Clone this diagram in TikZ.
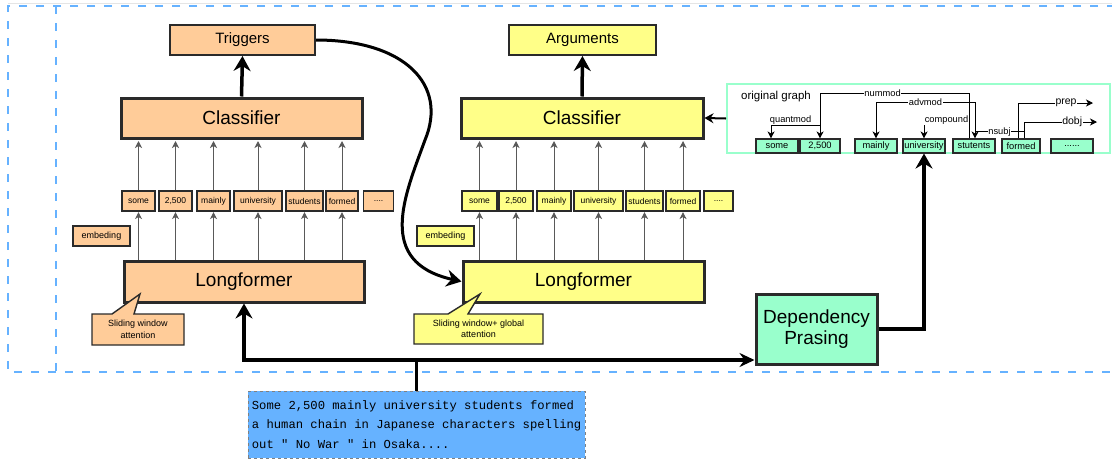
\documentclass[tikz,border=0pt]{standalone}
\usepackage{fontspec}
\setmainfont{Liberation Sans}
\newfontfamily\codefont[Ligatures=ResetAll]{Liberation Mono}
\usetikzlibrary{arrows.meta,calc}
\definecolor{orangefill}{HTML}{FFCC99}
\definecolor{yellowfill}{HTML}{FFFF88}
\definecolor{mintfill}{HTML}{99FFCC}
\definecolor{frameblue}{HTML}{66B2FF}
\definecolor{textblue}{HTML}{66B2FF}
\definecolor{edgegray}{HTML}{2A2A2A}
\newcommand\tokdots{....}
\tikzset{
  bigbox/.style={draw=edgegray, line width=3pt, inner sep=0pt, font=\fontsize{19}{22}\selectfont},
  headbox/.style={draw=edgegray, line width=2pt, inner sep=0pt, minimum height=30pt, font=\fontsize{15}{18}\selectfont},
  tokbox/.style={draw=edgegray, line width=1.1pt, inner sep=0pt, minimum height=20pt, font=\fontsize{8.5}{10}\selectfont},
  embbox/.style={draw=edgegray, line width=1.1pt, inner sep=0pt, minimum width=57pt, minimum height=20pt, font=\fontsize{9}{10}\selectfont},
  gtok/.style={draw=edgegray, fill=mintfill, line width=1.1pt, inner sep=0pt, minimum height=14pt, font=\fontsize{9.3}{10}\selectfont},
  thickarrow/.style={line width=3.5pt, -{Stealth[length=15pt,width=17pt,inset=5pt]}},
  smallarrow/.style={draw=black!65, line width=1pt, -{Stealth[length=7pt,width=7pt,inset=2pt]}},
  gedge/.style={line width=0.9pt, -{Stealth[length=7pt,width=7pt,inset=2pt]}},
  glabel/.style={fill=white, inner sep=0.6pt, font=\fontsize{9.3}{10}\selectfont},
  glabelbig/.style={fill=white, inner sep=0.6pt, font=\fontsize{10.5}{11}\selectfont},
  calloutline/.style={draw=edgegray, line width=1.4pt},
  callouttext/.style={align=center, inner sep=0pt, font=\fontsize{9}{11.5}\selectfont},
  frameline/.style={draw=frameblue, line width=2.6pt, dash pattern=on 8pt off 9pt}
}
\begin{document}
\begin{tikzpicture}[x=1pt,y=-1pt]
\useasboundingbox (0,0) rectangle (1112,459);

% dashed frames
\draw[gray!20, line width=0.8pt] (8,3) -- (1112,3);
\draw[frameline] (1115,6) -- (8,6) -- (8,372) -- (1115,372);
\draw[frameline] (56,6) -- (56,372);

% ---------- left column ----------
\node[headbox, fill=orangefill, minimum width=145pt] (trig) at (242.5,40) {Triggers};
\node[bigbox, fill=orangefill, minimum width=241pt, minimum height=40pt] (cls1) at (241.5,118) {Classifier};
\node[bigbox, fill=orangefill, minimum width=240pt, minimum height=41pt] (long1) at (244,281.5) {Longformer};
\node[embbox, fill=orangefill] (emb1) at (101.5,236) {embeding};
\foreach \n/\t/\c/\w in {1/some/138.5/33, 2/{2,500}/175.5/33, 3/mainly/213.5/33, 4/university/258/48, 5/students/304.5/37, 6/formed/342/32, 7/\tokdots/378.5/30}{
  \node[tokbox, fill=orangefill, minimum width=\w pt] (l\n) at (\c,201) {\t};
}
\foreach \i in {1,2,3,4,5,6}{
  \draw[smallarrow, shorten >=1.5pt] (l\i.north) -- (l\i.north |- cls1.south);
  \draw[smallarrow, shorten >=0.5pt] (l\i.south |- long1.north) -- (l\i.south);
}
\draw[thickarrow] (cls1.north) -- (trig.south);

% callout left
\draw[calloutline, fill=orangefill] (92,314) -- (112,314) -- (140,294) -- (134,314) -- (184,314) -- (184,345) -- (92,345) -- cycle;
\node[callouttext] (call1) at (138,329.5) {Sliding window\\attention};

% ---------- middle column ----------
\node[headbox, fill=yellowfill, minimum width=147pt] (args) at (582.5,40) {Arguments};
\node[bigbox, fill=yellowfill, minimum width=242pt, minimum height=40pt] (cls2) at (582,118) {Classifier};
\node[bigbox, fill=yellowfill, minimum width=241pt, minimum height=41pt] (long2) at (583.5,281.5) {Longformer};
\node[embbox, fill=yellowfill] (emb2) at (445.5,236) {embeding};
\foreach \n/\t/\c/\w in {1/some/479.5/35, 2/{2,500}/516/34, 3/mainly/554/34, 4/university/598.5/49, 5/students/644.5/37, 6/formed/683/34, 7/\tokdots/718.5/29}{
  \node[tokbox, fill=yellowfill, minimum width=\w pt] (m\n) at (\c,201) {\t};
}
\foreach \i in {1,2,3,4,5,6}{
  \draw[smallarrow, shorten >=1.5pt] (m\i.north) -- (m\i.north |- cls2.south);
  \draw[smallarrow, shorten >=0.5pt] (m\i.south |- long2.north) -- (m\i.south);
}
\draw[thickarrow] (cls2.north) -- (args.south);

% callout middle
\draw[calloutline, fill=yellowfill] (414,314) -- (448,314) -- (480,294) -- (468,314) -- (543,314) -- (543,344) -- (414,344) -- cycle;
\node[callouttext] (call2) at (478.5,329) {Sliding window+ global\\attention};

% curve from Triggers to second Longformer
\draw[line width=3pt, -{Stealth[length=15pt,width=17pt,inset=5pt]}]
  (trig.east) .. controls (405,40) and (448,85) .. (425,140)
  .. controls (405,195) and (375,262) .. (long2.west);

% ---------- original graph ----------
\node[draw=mintfill, line width=2pt, minimum width=383pt, minimum height=69pt, inner sep=0pt] (graph) at (918.5,118.5) {};
\node[inner sep=0pt, font=\fontsize{11.5}{12}\selectfont, anchor=west] (gtitle) at (741,97) {original graph};
\node[gtok, minimum width=42pt] (gsome) at (777,146) {some};
\node[gtok, minimum width=40pt] (g2500) at (820,146) {2,500};
\node[gtok, minimum width=42pt] (gmainly) at (876,146) {mainly};
\node[gtok, minimum width=42pt] (guniv) at (924,146) {university};
\node[gtok, minimum width=42pt] (gstud) at (974,146) {stutents};
\node[gtok, minimum width=38pt] (gformed) at (1021,146) {formed};
\node[gtok, minimum width=42pt] (gdots) at (1072,146) {......};

\coordinate (n1) at (969,93);
\coordinate (a1) at (975,102);
\coordinate (s1) at (1024,131);
\coordinate (c1) at (969,121);
\coordinate (q1) at (820,125);
\coordinate (q2) at (771,0);
\coordinate (p1) at (1018,103);
\coordinate (p2) at (1093,103);
\coordinate (d1) at (1024,122);
\coordinate (d2) at (1097,122);

% nummod
\draw[gedge] (gstud.north -| n1) -- (n1) -| node[glabel, pos=0.29] {nummod} (g2500.north);
% advmod
\draw[gedge] (a1 |- s1) -- (a1) -| node[glabel, pos=0.25] {advmod} (gmainly.north);
% nsubj
\draw[gedge] (gformed.north -| s1) -- (s1) -| node[glabel, pos=0.25, yshift=-1pt] {nsubj} (gstud.north -| a1);
% compound
\draw[gedge] (c1) -| node[glabel, pos=0.25, yshift=1pt] {compound} (guniv.north);
% quantmod
\draw[gedge] (q1) -| node[glabel, pos=0.3, yshift=5pt] {quantmod} (gsome.north -| q2);
% prep / dobj
\draw[gedge] (gformed.north -| p1) |- node[glabelbig, pos=0.82] {prep} (p2);
\draw[gedge] (gformed.north -| d1) |- node[glabelbig, pos=0.83] {dobj} (d2);

\draw[line width=2pt, -{Stealth[length=9pt,width=10pt,inset=3pt]}] (graph.west) -- (cls2.east);

% ---------- dependency parsing ----------
\node[bigbox, fill=mintfill, minimum width=121pt, minimum height=70pt, align=center, font=\fontsize{19}{21.7}\selectfont] (dep) at (816.5,329) {Dependency\\Prasing};
\draw[thickarrow] (dep.east) -| (guniv.south);

% ---------- input text ----------
\node[draw=gray, dashed, line width=0.6pt, fill=textblue, minimum height=67pt,
      inner xsep=3.6pt, inner ysep=0pt, align=left, anchor=west,
      font=\codefont\fontsize{12.2}{19.6}\selectfont] (txt) at (248,424.5)
  {Some 2,500 mainly university students formed\\a human chain in Japanese characters spelling\\out " No War " in Osaka....};
\coordinate (j) at (416.5,360);
\draw[line width=3.5pt] (txt.north -| j) -- (j);
\draw[thickarrow] (j) -| (long1.south);
\draw[line width=3.5pt, -{Stealth[length=15pt,width=14pt,inset=5pt]}] (j) -- (j -| dep.west);
\end{tikzpicture}
\end{document}
